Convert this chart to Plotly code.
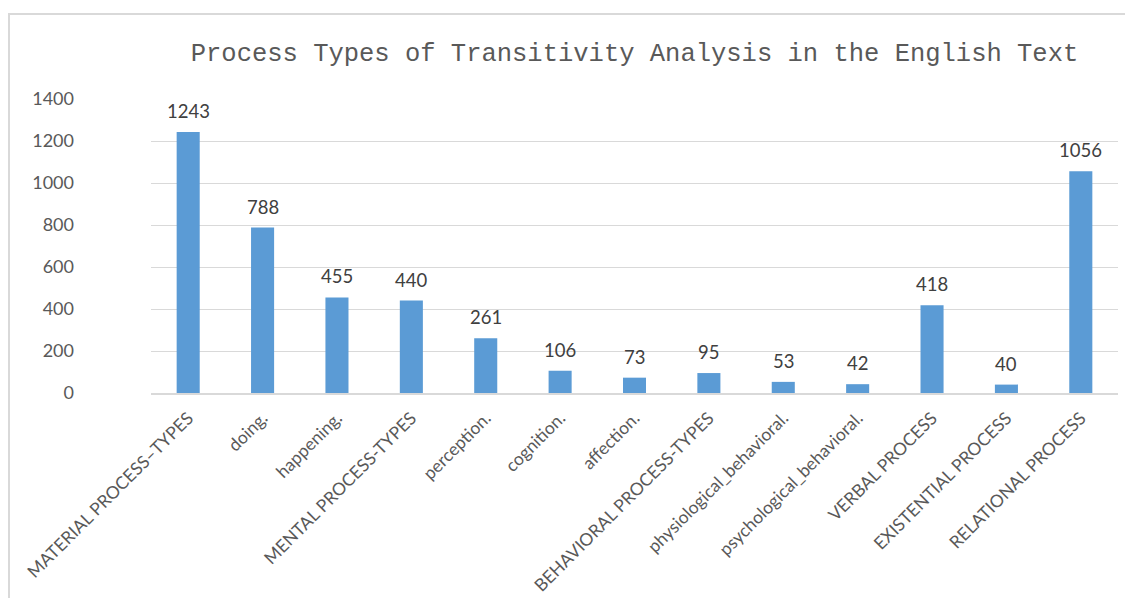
import plotly.graph_objects as go

categories = [
    "MATERIAL PROCESS–TYPES", "doing.", "happening.", "MENTAL PROCESS-TYPES",
    "perception.", "cognition.", "affection.", "BEHAVIORAL PROCESS-TYPES",
    "physiological_behavioral.", "psychological_behavioral.", "VERBAL PROCESS",
    "EXISTENTIAL PROCESS", "RELATIONAL PROCESS",
]
values = [1243, 788, 455, 440, 261, 106, 73, 95, 53, 42, 418, 40, 1056]
y_ticks = [0, 200, 400, 600, 800, 1000, 1200, 1400]
title_text = "Process Types of Transitivity Analysis in the English Text"

W, H = 1125, 598
L, R, T, B = 151, 7, 99, 205

fig = go.Figure()
fig.add_trace(go.Bar(
    x=categories, y=values,
    marker=dict(color="#5b9bd5", line=dict(width=0)),
    hoverinfo="x+y",
))

for c, v in zip(categories, values):
    fig.add_annotation(
        x=c, y=v, text=str(v), showarrow=False, yanchor="bottom", yshift=8,
        font=dict(family="Lato", size=18.5, color="#404040"),
    )

fig.update_layout(
    width=W, height=H,
    margin=dict(l=L, r=R, t=T, b=B, pad=0),
    paper_bgcolor="white", plot_bgcolor="white",
    bargap=0.69,
    showlegend=False,
    title=dict(
        text=title_text, x=0.5, xref="paper", xanchor="center",
        y=1 - 52 / H, yref="container", yanchor="middle",
        font=dict(family="Liberation Mono", size=25.5, color="#595959"),
    ),
    xaxis=dict(
        tickangle=-45, tickfont=dict(family="Lato", size=17.5, color="#595959"),
        showline=True, linecolor="#d9d9d9", linewidth=2,
        showgrid=False, ticks="", ticklabelstandoff=6, automargin=False,
    ),
    yaxis=dict(
        range=[0, 1400], tickvals=y_ticks,
        tickfont=dict(family="Lato", size=18, color="#595959"),
        showgrid=True, gridcolor="#d9d9d9", gridwidth=1,
        zeroline=False, showline=False, ticks="", ticklabelstandoff=76,
        automargin=False,
    ),
    shapes=[dict(
        type="rect", xref="paper", yref="paper",
        x0=(9 - L) / (W - L - R), x1=1.2,
        y0=-2, y1=(H - B - 14) / (H - T - B),
        line=dict(color="#d9d9d9", width=2), fillcolor="rgba(0,0,0,0)", layer="below",
    )],
)

fig.write_html("out.html")
